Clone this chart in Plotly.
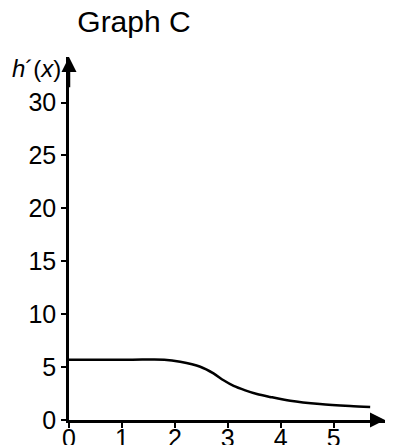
import plotly.graph_objects as go

# Data
x_vals = [0, 0.6, 1.2, 1.8, 2.1, 2.48, 2.73, 2.92, 3.11, 3.33, 3.55, 3.8, 4.18, 4.74, 5.31, 5.69]
y_vals = [5.7, 5.7, 5.7, 5.7, 5.5, 5.03, 4.4, 3.75, 3.22, 2.8, 2.45, 2.18, 1.82, 1.51, 1.32, 1.23]
x_ticks = [0, 1, 2, 3, 4, 5]
y_ticks = [0, 5, 10, 15, 20, 25, 30]

FONT = "Liberation Sans, Arial, sans-serif"
X_MAX = 5.97
Y_MAX = 34.3

fig = go.Figure()
fig.add_trace(go.Scatter(
    x=x_vals, y=y_vals, mode="lines",
    line=dict(color="black", width=2.5, shape="spline", smoothing=0.8),
    hoverinfo="skip", showlegend=False,
))

axis_common = dict(
    showgrid=False, zeroline=False, showline=True, linecolor="black", linewidth=2.5,
    ticks="outside", ticklen=5, tickwidth=2, tickcolor="black", automargin=False,
    tickfont=dict(family=FONT, size=25, color="black"),
)

fig.update_layout(
    width=394, height=445,
    margin=dict(l=69, r=9, t=57, b=25),
    paper_bgcolor="white", plot_bgcolor="white",
    title=dict(text="Graph C", x=134/394, xanchor="center", y=1-21/445, yanchor="middle",
               font=dict(family=FONT, size=30, color="black")),
    xaxis=dict(range=[0, X_MAX], tickvals=x_ticks, ticktext=[str(v) for v in x_ticks],
               ticklabelstandoff=-11, **axis_common),
    yaxis=dict(range=[0, Y_MAX], tickvals=y_ticks, ticktext=[str(v) for v in y_ticks], **axis_common),
)

# axis arrows
fig.add_annotation(x=X_MAX, y=0, ax=X_MAX-0.3, ay=0, xref="x", yref="y", axref="x", ayref="y",
                   text="", showarrow=True, arrowhead=2, arrowsize=1.2, arrowwidth=2.5, arrowcolor="black")
fig.add_annotation(x=0, y=Y_MAX, ax=0, ay=Y_MAX-3, xref="x", yref="y", axref="x", ayref="y",
                   text="", showarrow=True, arrowhead=2, arrowsize=1.2, arrowwidth=2.5, arrowcolor="black")

# axis labels
fig.add_annotation(x=0, y=33.2, xref="x", yref="y", xanchor="right", yanchor="middle", xshift=-6,
                   text="<i>h</i>´(<i>x</i>)", showarrow=False,
                   font=dict(family=FONT, size=24, color="black"))
fig.add_annotation(x=5.88, y=-1.5, xref="x", yref="y", xanchor="center", yanchor="middle",
                   text="<i>x</i>", showarrow=False,
                   font=dict(family=FONT, size=24, color="black"))

fig.write_html("out.html")
